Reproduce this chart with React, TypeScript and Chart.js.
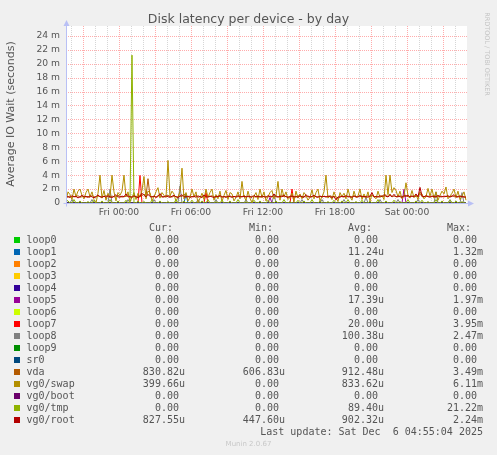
import React, { useRef, useEffect } from "react";
import { Chart, registerables } from "chart.js";

Chart.register(...registerables);

// time axis: hours relative to Fri 00:00, one sample every 10 minutes from Thu 19:35
const startHour = -4.4167;
const stepHour = 1 / 6;

const devices = [
  "loop0", "loop1", "loop2", "loop3", "loop4", "loop5", "loop6", "loop7",
  "loop8", "loop9", "sr0", "vda", "vg0/swap", "vg0/boot", "vg0/tmp", "vg0/root",
];
const colors = [
  "#00CC00", "#0066B3", "#FF8000", "#FFCC00", "#330099", "#990099", "#CCFF00", "#FF0000",
  "#808080", "#008F00", "#00487D", "#B35A00", "#B38F00", "#6B006B", "#8FB300", "#B30000",
];

const curText = ["0.00", "0.00", "0.00", "0.00", "0.00", "0.00", "0.00", "0.00", "0.00", "0.00", "0.00", "830.82u", "399.66u", "0.00", "0.00", "827.55u"];
const minText = ["0.00", "0.00", "0.00", "0.00", "0.00", "0.00", "0.00", "0.00", "0.00", "0.00", "0.00", "606.83u", "0.00", "0.00", "0.00", "447.60u"];
const avgText = ["0.00", "11.24u", "0.00", "0.00", "0.00", "17.39u", "0.00", "20.00u", "100.38u", "0.00", "0.00", "912.48u", "833.62u", "0.00", "89.40u", "902.32u"];
const maxText = ["0.00", "1.32m", "0.00", "0.00", "0.00", "1.97m", "0.00", "3.95m", "2.47m", "0.00", "0.00", "3.49m", "6.11m", "0.00", "21.22m", "2.24m"];

// values in milliseconds
const vg0Root = [
  0.85, 0.92, 0.78, 1.05, 0.88, 0.95, 0.72, 0.9, 1.1, 0.86, 0.95, 0.8, 1.02, 0.88, 0.76, 0.93, 1.15, 0.9, 0.84, 0.97,
  0.82, 1.05, 0.9, 0.78, 0.95, 1.2, 0.88, 0.83, 0.99, 0.9, 1.3, 0.87, 0.92, 0.8, 1.05, 0.9, 0.75, 0.95, 1.4, 1.1,
  0.88, 1.25, 0.92, 0.85, 1.0, 0.8, 0.93, 1.35, 0.9, 0.86, 1.05, 0.9, 0.82, 0.97, 1.1, 0.88, 0.8, 0.95, 1.2, 0.9,
  0.86, 1.0, 0.8, 0.92, 0.88, 1.05, 0.83, 0.95, 0.78, 1.15, 0.9, 0.85, 1.0, 0.88, 0.8, 0.96, 0.9, 1.1, 0.84, 0.92,
  0.8, 1.0, 0.9, 0.86, 0.95, 0.82, 1.05, 0.9, 0.88, 0.96, 0.84, 1.0, 0.92, 0.8, 1.1, 0.88, 0.93, 0.85, 1.0, 0.9,
  0.82, 1.05, 0.9, 0.86, 1.3, 0.9, 0.85, 0.97, 0.88, 1.1, 0.9, 0.8, 0.95, 1.0, 0.86, 0.92, 0.84, 1.05, 0.9, 0.8,
  1.2, 0.9, 0.85, 0.95, 1.1, 0.88, 0.82, 1.0, 0.9, 0.94, 0.86, 1.0, 0.9, 0.8, 0.95, 0.45, 0.88, 0.83, 0.97, 0.9,
  1.05, 0.86, 0.92, 0.8, 1.0, 0.9, 0.85, 1.1, 0.88, 0.95, 0.9, 0.83, 1.0, 1.5, 0.88, 0.92, 0.85, 1.05, 0.9, 1.2,
  0.95, 0.88, 1.1, 0.9, 1.25, 0.86, 1.0, 0.9, 0.82, 1.05, 0.95, 1.1, 0.88, 1.0, 0.9, 1.3, 0.86, 2.24, 1.0, 0.9,
  1.05, 0.9, 0.86, 1.0, 0.92, 0.85, 1.1, 0.9, 0.88, 1.0, 0.9, 1.05, 0.86, 0.95, 1.2, 0.9, 0.85, 1.0, 0.9, 0.88,
  0.83,
];

const vda = [
  0.9, 0.85, 1.0, 0.8, 0.95, 0.88, 1.05, 0.82, 0.9, 1.0, 0.86, 0.95, 0.8, 1.1, 0.9, 0.85, 1.0, 0.92, 0.8, 0.95,
  1.05, 0.88, 0.82, 1.0, 0.9, 0.86, 1.1, 0.95, 0.85, 0.9, 0.95, 1.2, 0.85, 0.9, 1.0, 0.82, 0.95, 0.88, 1.05, 1.3,
  0.9, 3.49, 1.0, 0.88, 0.95, 0.85, 1.05, 1.0, 0.86, 0.92, 0.88, 1.1, 0.9, 0.85, 1.0, 0.92, 0.86, 1.05, 0.9, 1.3,
  0.9, 0.85, 1.0, 0.88, 0.95, 0.8, 1.05, 0.9, 0.86, 1.0, 0.85, 0.95, 0.9, 1.05, 0.88, 0.82, 1.0, 0.92, 0.86, 0.95,
  0.9, 0.86, 1.05, 0.8, 0.92, 0.95, 0.88, 1.0, 0.9, 1.1, 0.88, 0.92, 0.85, 1.0, 0.9, 0.86, 1.05, 0.9, 0.82, 0.95,
  0.9, 0.86, 1.0, 0.92, 0.85, 1.05, 0.88, 0.9, 1.2, 0.86, 0.95, 0.88, 0.82, 1.0, 0.9, 0.86, 1.05, 0.92, 0.88, 0.95,
  0.86, 1.0, 0.9, 0.85, 1.05, 0.9, 0.88, 0.95, 0.82, 1.0, 0.9, 0.86, 1.05, 0.92, 0.88, 0.95, 0.61, 1.0, 0.9, 0.86,
  0.95, 1.0, 0.88, 0.9, 1.05, 0.85, 0.92, 0.9, 1.0, 0.86, 0.88, 1.05, 0.9, 1.1, 0.86, 0.95, 0.9, 0.88, 1.0, 0.92,
  1.2, 0.9, 1.3, 0.88, 1.0, 0.92, 0.86, 1.05, 0.9, 0.95, 1.1, 0.88, 0.92, 1.0, 0.86, 0.95, 1.05, 1.4, 0.9, 0.88,
  0.95, 1.0, 0.86, 0.92, 1.05, 0.9, 0.88, 1.0, 0.95, 0.86, 1.0, 0.9, 0.88, 1.05, 0.92, 0.86, 0.95, 1.0, 0.9, 0.86,
  0.83,
];

const vg0Swap = [
  0.3, 1.6, 1.2, 0.5, 2.0, 0.9, 1.7, 2.0, 1.1, 0.6, 1.5, 2.0, 0.9, 1.6, 0.5, 0.0, 1.4, 4.0, 0.7, 1.8,
  0.4, 1.4, 0.8, 4.0, 1.6, 0.3, 1.5, 1.1, 1.7, 4.0, 0.9, 1.6, 0.2, 0.8, 1.5, 0.5, 1.4, 0.9, 1.8, 3.8,
  0.6, 1.7, 1.5, 0.3, 0.9, 1.6, 2.2, 0.7, 1.5, 1.1, 0.8, 6.11, 1.0, 1.7, 1.3, 0.2, 0.9, 1.6, 5.0, 0.6,
  1.5, 0.3, 0.8, 2.0, 0.9, 1.6, 0.0, 0.7, 1.4, 0.5, 2.0, 0.8, 1.5, 2.0, 0.4, 1.2, 0.6, 1.7, 0.2, 1.1,
  1.8, 0.5, 1.5, 1.3, 0.3, 0.8, 1.6, 0.6, 3.1, 0.9, 0.4, 1.7, 0.7, 0.0, 1.0, 1.5, 0.5, 2.0, 0.8, 1.6,
  0.3, 0.9, 1.5, 1.8, 0.6, 1.0, 3.1, 0.4, 2.0, 0.9, 1.6, 0.5, 0.8, 1.4, 0.2, 1.7, 0.7, 1.3, 0.6, 1.5,
  1.1, 0.4, 0.8, 1.9, 0.6, 1.5, 2.0, 0.3, 0.9, 1.6, 4.0, 0.7, 1.0, 0.5, 1.6, 0.8, 0.2, 1.5, 0.9, 1.4,
  0.6, 2.0, 0.9, 0.4, 1.7, 0.8, 1.0, 2.0, 0.5, 1.3, 0.7, 1.6, 0.3, 1.2, 0.9, 0.6, 1.7, 0.8, 1.1, 0.5,
  4.0, 1.2, 4.0, 1.5, 2.2, 1.8, 0.9, 1.7, 0.6, 1.0, 2.9, 1.1, 0.7, 1.8, 0.8, 1.2, 0.5, 1.6, 1.3, 0.6,
  0.9, 2.1, 1.0, 2.0, 0.7, 1.6, 0.4, 1.1, 1.7, 1.3, 2.3, 0.6, 1.0, 1.4, 2.0, 0.8, 1.7, 0.5, 1.0, 1.6,
  0.4,
];

const vg0Tmp = [
  0.4, 0.3, 0, 0, 0.5, 0, 0, 0.3, 0, 0, 0, 0.2, 0, 0, 0.4, 0, 0, 0, 0.3, 0,
  0, 0, 0.5, 0, 0, 0, 0.3, 0, 0, 0, 0.4, 0, 0, 21.22, 0, 0, 0.3, 0, 0, 0.2,
  0, 0, 0, 0.4, 0, 0, 0, 0.3, 0, 0, 0, 0.2, 0, 0, 0, 0.5, 0, 0, 0, 0.3,
  0, 0, 0, 0.4, 0, 0, 0, 0, 0.3, 0, 0, 0.5, 0, 0, 0, 0.2, 0, 0, 0.4, 0,
  0, 0, 0.3, 0, 0, 0, 0.5, 0, 0, 0, 0.2, 0, 0, 0, 0.4, 0, 0, 0.3, 0, 0,
  0, 0.4, 0, 0, 0, 0.3, 0, 0, 0, 0.5, 0, 0, 0.2, 0, 0, 0, 0.4, 0, 0, 0.3,
  0, 0, 0, 0.5, 0, 0, 0, 0.3, 0, 0, 0, 0.2, 0, 0, 0.4, 0, 0, 0, 0.3, 0,
  0, 0.5, 0, 0, 0, 0.2, 0, 0, 0.4, 0, 0, 0, 0.3, 0, 0, 0, 0.5, 0, 0, 0,
  0.3, 0, 0, 0, 0.4, 0, 0, 0.2, 0, 0, 0, 0.5, 0, 0, 0, 0.3, 0, 0, 0.4, 0,
  0, 0.2, 0, 0, 0, 0.5, 0, 0, 0.3, 0, 0, 0, 0.4, 0, 0, 0.3, 0, 0, 0.2, 0,
  0,
];

const loop8 = [
  0, 0, 0, 0.5, 0, 0, 0, 0, 0, 0, 0, 0, 0, 0.5, 0, 0, 0, 0, 0, 0,
  0, 0, 2.0, 0, 0, 0, 0, 0, 0, 0, 0, 0.5, 0, 0, 0, 0, 0, 0, 0, 0,
  0, 0, 0, 0, 0.5, 0, 0, 0, 0, 0, 0, 0, 0, 0, 0, 0, 0, 2.47, 0, 0,
  0, 0, 0, 0, 0, 0, 0.5, 0, 0, 0, 0, 0, 0, 0, 0, 0.5, 0, 0, 0, 0,
  0, 0, 0, 0, 0, 0, 0, 0, 0, 0, 0.5, 0, 0, 0, 0, 0, 0, 0, 0, 0,
  0, 0, 0, 0, 1.3, 0, 0, 0, 0, 0, 0, 0, 0, 0, 0, 0, 0, 0, 0.5, 0,
  0, 0, 0, 0, 0, 0, 0, 0, 0.5, 0, 0, 0, 0, 0, 0, 0, 0, 0, 0, 0.5,
  0, 0, 0, 0, 0, 0, 0, 0, 0, 0, 0.8, 0, 0, 0, 0, 0, 0, 0.5, 0, 0,
  0, 0, 0, 0, 0, 0, 0.5, 0, 0, 0, 0, 0, 0, 0, 0, 0, 0.5, 0, 0, 0,
  0, 0, 0, 0, 0, 1.6, 0, 0, 0, 0, 0, 0, 0.5, 0, 0, 0, 0, 0, 1.5, 0,
  0,
];

const loop7 = [
  0, 0, 0, 0, 0, 0, 0, 0, 0, 0, 0, 0, 0, 0, 0, 0, 0, 0, 0, 0,
  0, 0, 0, 0, 0, 0, 0, 0, 0, 0, 0, 0, 0, 0, 0, 0, 0, 3.95, 0, 0,
  0, 0, 0, 0, 0, 0, 0, 0, 0, 0, 0, 0, 0, 0, 0, 0, 0, 0, 0, 0,
  0, 0, 0, 0, 0, 0, 0, 0, 0, 0, 1.5, 0, 0, 0, 0, 0, 0, 0, 0, 0,
  0, 0, 0, 0, 0, 0, 0, 0, 0, 0, 0, 0, 0, 0, 0, 0, 0, 0, 0, 0,
  0, 0, 0, 0, 0, 0, 0, 0, 0, 0, 0, 0, 0, 2.0, 0, 0, 0, 0, 0, 0,
  0, 0, 0, 0, 0, 0, 0, 0, 0, 0, 0, 0, 0, 0, 0, 0, 0, 0, 0, 0,
  0, 0, 0, 0, 0, 0, 0, 0, 0, 0, 0, 0, 0, 0, 0, 0, 0, 0, 0, 0,
  0, 0, 0, 0, 0, 0, 0, 0, 0, 0, 0, 0, 0, 0, 0, 0, 0, 0, 0, 0,
  0, 0, 0, 0, 0, 0, 0, 0, 0, 0, 0, 0, 0, 0, 0, 0, 0, 0, 0, 0,
  0,
];

const loop5 = [
  0, 0, 0, 0, 0, 0, 0, 0, 0, 0, 0, 0, 0, 0, 0, 0, 0, 0, 0, 0,
  0, 0, 0, 0, 0, 0, 0, 0, 0, 0, 0, 0, 0, 0, 0, 0, 0, 0, 0, 0,
  0, 0, 0, 0, 0, 0, 0, 0, 0, 0, 0, 0, 0, 0, 0, 0, 0, 0, 0, 0,
  0, 0, 0, 0, 0, 0, 0, 0, 0, 0, 0, 0, 0, 0, 0, 0, 0, 0, 0, 0,
  0, 0, 0, 0, 0, 0, 0, 0, 0, 0, 0, 0, 0, 0, 0, 0, 0, 0, 0, 0,
  0, 0, 0.8, 0, 0, 0, 0, 0, 0, 0, 0, 0, 0, 0, 0, 0, 0, 0, 0, 0,
  0, 0, 0, 0, 0, 0, 0, 0, 0, 0, 0, 0, 0, 0, 0, 0, 0, 0, 0, 0,
  0, 0, 0, 0, 0, 0, 0, 0, 0, 0, 0, 0, 0, 0, 0, 0, 0, 0, 0, 0,
  0, 0, 0, 0, 0, 0, 0, 0, 0, 1.97, 0, 0, 0, 0, 0, 0, 0, 0, 0, 0,
  0, 0, 0, 0, 0, 0, 0, 0, 0, 0, 0, 0, 0, 0, 0, 0, 0, 0, 0, 0,
  0,
];

const loop1 = [
  0, 0, 0, 0, 0, 0, 0, 0, 0, 0, 0, 0, 0, 0, 0, 0, 0, 0, 0, 0,
  0, 0, 0, 0, 0, 0, 0, 0, 0, 0, 0, 0, 0, 0, 0, 0, 0, 0, 0, 0,
  0, 0, 0, 0, 0, 0, 0, 0, 0, 0, 0, 0, 0, 0, 0, 0, 0, 0, 0, 0,
  1.32, 0, 0, 0, 0, 0, 0, 0, 0, 0, 0, 0, 0, 0, 0, 0, 0, 0, 0, 0,
  0, 0, 0, 0, 0, 0, 0, 0, 0, 0, 0, 0, 0, 0, 0, 0, 0, 0, 0, 0,
  0, 0, 0, 0, 0, 0, 0, 0, 0, 0, 0, 0, 0, 0, 0, 0, 0, 0, 0, 0,
  0, 0, 0, 0, 0, 0, 0, 0, 0, 0, 0, 0, 0, 0, 0, 0, 0, 0, 0, 0,
  0, 0, 0, 0, 0, 0, 0, 0, 0, 0, 0, 0, 0, 0, 0, 0, 0, 0, 0, 0,
  0, 0, 0, 0, 0, 0, 0, 0, 0, 0, 0, 0, 0, 0, 0, 0, 0, 0, 0, 0,
  0, 0, 0, 0, 0, 0, 0, 0, 0, 0, 0, 0, 0, 0, 0, 0, 0, 0, 0, 0,
  0,
];

// devices that stayed at 0.00 the whole day
const idle = vg0Root.map(() => 0);

const seriesValues = [
  idle, loop1, idle, idle, idle, loop5, idle, loop7,
  loop8, idle, idle, vda, vg0Swap, idle, vg0Tmp, vg0Root,
];

const xTickHours = [0, 6, 12, 18, 24];
const xTickLabels = ["Fri 00:00", "Fri 06:00", "Fri 12:00", "Fri 18:00", "Sat 00:00"];

const MAJOR = "rgba(255, 70, 70, 0.45)";
const MINOR = "rgba(120, 120, 120, 0.3)";
const AXIS = "rgb(185, 192, 245)";
const TEXT = "#555";
const SANS = "'DejaVu Sans', sans-serif";
const MONO = "'DejaVu Sans Mono', monospace";
const W = 497;

// white plot area, dotted rrdtool-style grid from the scales' ticks, axes with arrows
const muninPlugin = {
  id: "munin",
  beforeDatasetsDraw(chart: any) {
    const { ctx, chartArea: a, scales } = chart;
    ctx.save();
    ctx.fillStyle = "#ffffff";
    ctx.fillRect(a.left, a.top, a.right - a.left, a.bottom - a.top);
    ctx.lineWidth = 1;
    ctx.setLineDash([1, 1]);
    const pass = (major: boolean) => {
      ctx.strokeStyle = major ? MAJOR : MINOR;
      ctx.beginPath();
      for (const t of scales.x.ticks) {
        const v = Math.round(t.value);
        if ((v % 3 === 0) !== major) continue;
        const px = Math.round(scales.x.getPixelForValue(t.value)) + 0.5;
        ctx.moveTo(px, a.top);
        ctx.lineTo(px, a.bottom);
      }
      for (const t of scales.y.ticks) {
        const v = Math.round(t.value);
        if (v === 0 || (v % 2 === 0) !== major) continue;
        const py = Math.round(scales.y.getPixelForValue(t.value)) + 0.5;
        ctx.moveTo(a.left, py);
        ctx.lineTo(a.right, py);
      }
      ctx.stroke();
    };
    pass(false);
    pass(true);
    ctx.restore();
  },
  afterDraw(chart: any) {
    const { ctx, chartArea: a } = chart;
    const x0 = Math.round(a.left) + 0.5;
    const y0 = Math.round(a.bottom) + 0.5;
    ctx.save();
    ctx.strokeStyle = AXIS;
    ctx.fillStyle = AXIS;
    ctx.lineWidth = 1;
    ctx.beginPath();
    ctx.moveTo(x0, y0 + 3);
    ctx.lineTo(x0, a.top - 2);
    ctx.moveTo(x0 - 3, y0);
    ctx.lineTo(a.right + 2, y0);
    ctx.stroke();
    ctx.beginPath();
    ctx.moveTo(x0 - 3, a.top);
    ctx.lineTo(x0, a.top - 6);
    ctx.lineTo(x0 + 3, a.top);
    ctx.fill();
    ctx.beginPath();
    ctx.moveTo(a.right + 1, y0 - 3);
    ctx.lineTo(a.right + 7, y0);
    ctx.lineTo(a.right + 1, y0 + 3);
    ctx.fill();
    ctx.restore();
  },
};

const DiskLatencyChart = () => {
  const chartRef = useRef<HTMLCanvasElement>(null);

  useEffect(() => {
    if (!chartRef.current) return;
    const ctx = chartRef.current.getContext("2d");
    if (!ctx) return;

    const hours = vg0Root.map((_, i) => startHour + i * stepHour);
    const gridHours: number[] = [];
    for (let h = -4; h <= 28; h++) gridHours.push(h);
    const gridMs: number[] = [];
    for (let v = 0; v <= 25; v++) gridMs.push(v);

    const n = devices.length;
    const chart = new Chart(ctx, {
      type: "line",
      data: {
        datasets: devices.map((name, i) => ({
          label: name,
          data: hours.map((h, j) => ({ x: h, y: seriesValues[i][j] })),
          borderColor: colors[i],
          backgroundColor: colors[i],
          borderWidth: 1,
          pointRadius: 0,
          tension: 0,
          fill: false,
          order: n - 1 - i,
        })),
      },
      options: {
        responsive: false,
        animation: false,
        events: [],
        layout: { padding: { top: 26, right: 30, bottom: 232, left: 0 } },
        plugins: {
          legend: { display: false },
          tooltip: { enabled: false },
          title: { display: false },
        },
        scales: {
          x: {
            type: "linear",
            min: -4.4167,
            max: 29.0,
            afterBuildTicks: (s: any) => {
              s.ticks = gridHours.map((v) => ({ value: v }));
            },
            afterFit: (s: any) => {
              s.height = 20;
            },
            grid: { display: false, drawTicks: false },
            border: { display: false },
            ticks: {
              autoSkip: false,
              maxRotation: 0,
              padding: 4,
              color: TEXT,
              font: { family: SANS, size: 9.2 },
              callback: (v: any) => {
                const k = xTickHours.indexOf(Number(v));
                return k >= 0 ? xTickLabels[k] : "";
              },
            },
          },
          y: {
            type: "linear",
            min: 0,
            max: 25.4,
            afterBuildTicks: (s: any) => {
              s.ticks = gridMs.map((v) => ({ value: v }));
            },
            afterFit: (s: any) => {
              s.width = 66;
            },
            grid: { display: false, drawTicks: false },
            border: { display: false },
            ticks: {
              padding: 6,
              color: TEXT,
              font: { family: SANS, size: 9.2 },
              callback: (v: any) => {
                const num = Number(v);
                if (num % 2 !== 0) return "";
                return num === 0 ? "0" : `${num} m`;
              },
            },
          },
        },
      },
      plugins: [muninPlugin],
    });

    return () => {
      chart.destroy();
    };
  }, []);

  const text = (content: string, right: number, top: number) => (
    <div
      style={{
        position: "absolute",
        right: W - right,
        top,
        lineHeight: "12px",
        whiteSpace: "pre",
      }}
    >
      {content}
    </div>
  );
  const value = (s: string, right: number, top: number) =>
    text(/[um]$/.test(s) ? s : s + " ", right, top);

  const colRight = [185, 285, 384, 483];
  const headers = ["Cur:", "Min:", "Avg:", "Max:"];

  return (
    <div
      style={{
        position: "absolute",
        left: 0,
        top: 0,
        width: W,
        height: 455,
        background: "#f0f0f0",
        overflow: "hidden",
        fontFamily: SANS,
        color: TEXT,
      }}
    >
      <canvas ref={chartRef} width={W} height={455} style={{ position: "absolute", left: 0, top: 0 }} />
      <div
        style={{
          position: "absolute",
          left: 0,
          top: 11,
          width: W,
          textAlign: "center",
          fontSize: 12.5,
          lineHeight: "16px",
        }}
      >
        Disk latency per device - by day
      </div>
      <div
        style={{
          position: "absolute",
          left: 10.5 - 100,
          top: 114 - 7,
          width: 200,
          textAlign: "center",
          fontSize: 11,
          lineHeight: "14px",
          transform: "rotate(-90deg)",
        }}
      >
        Average IO Wait (seconds)
      </div>
      <div
        style={{
          position: "absolute",
          left: 487 - 60,
          top: 53.5 - 4,
          width: 120,
          textAlign: "center",
          fontSize: 6.5,
          lineHeight: "8px",
          color: "#c4c4c4",
          transform: "rotate(90deg)",
        }}
      >
        RRDTOOL / TOBI OETIKER
      </div>
      <div style={{ position: "absolute", left: 0, top: 0, width: W, height: 455, fontFamily: MONO, fontSize: 10 }}>
        {headers.map((h, k) => (
          <React.Fragment key={h}>{text(h, colRight[k] - 12, 227.5 - 6)}</React.Fragment>
        ))}
        {devices.map((name, i) => {
          const y = 239.5 + i * 12;
          return (
            <React.Fragment key={name}>
              <div
                style={{
                  position: "absolute",
                  left: 14,
                  top: y - 3,
                  width: 6,
                  height: 6,
                  background: colors[i],
                }}
              />
              <div style={{ position: "absolute", left: 26.5, top: y - 6, lineHeight: "12px", whiteSpace: "pre" }}>
                {name}
              </div>
              {value(curText[i], colRight[0], y - 6)}
              {value(minText[i], colRight[1], y - 6)}
              {value(avgText[i], colRight[2], y - 6)}
              {value(maxText[i], colRight[3], y - 6)}
            </React.Fragment>
          );
        })}
        {text("Last update: Sat Dec  6 04:55:04 2025", 483, 431.5 - 6)}
      </div>
      <div
        style={{
          position: "absolute",
          left: 0,
          top: 444 - 5,
          width: W,
          textAlign: "center",
          fontSize: 7,
          lineHeight: "10px",
          color: "#c8c8c8",
        }}
      >
        Munin 2.0.67
      </div>
    </div>
  );
};

export default DiskLatencyChart;
